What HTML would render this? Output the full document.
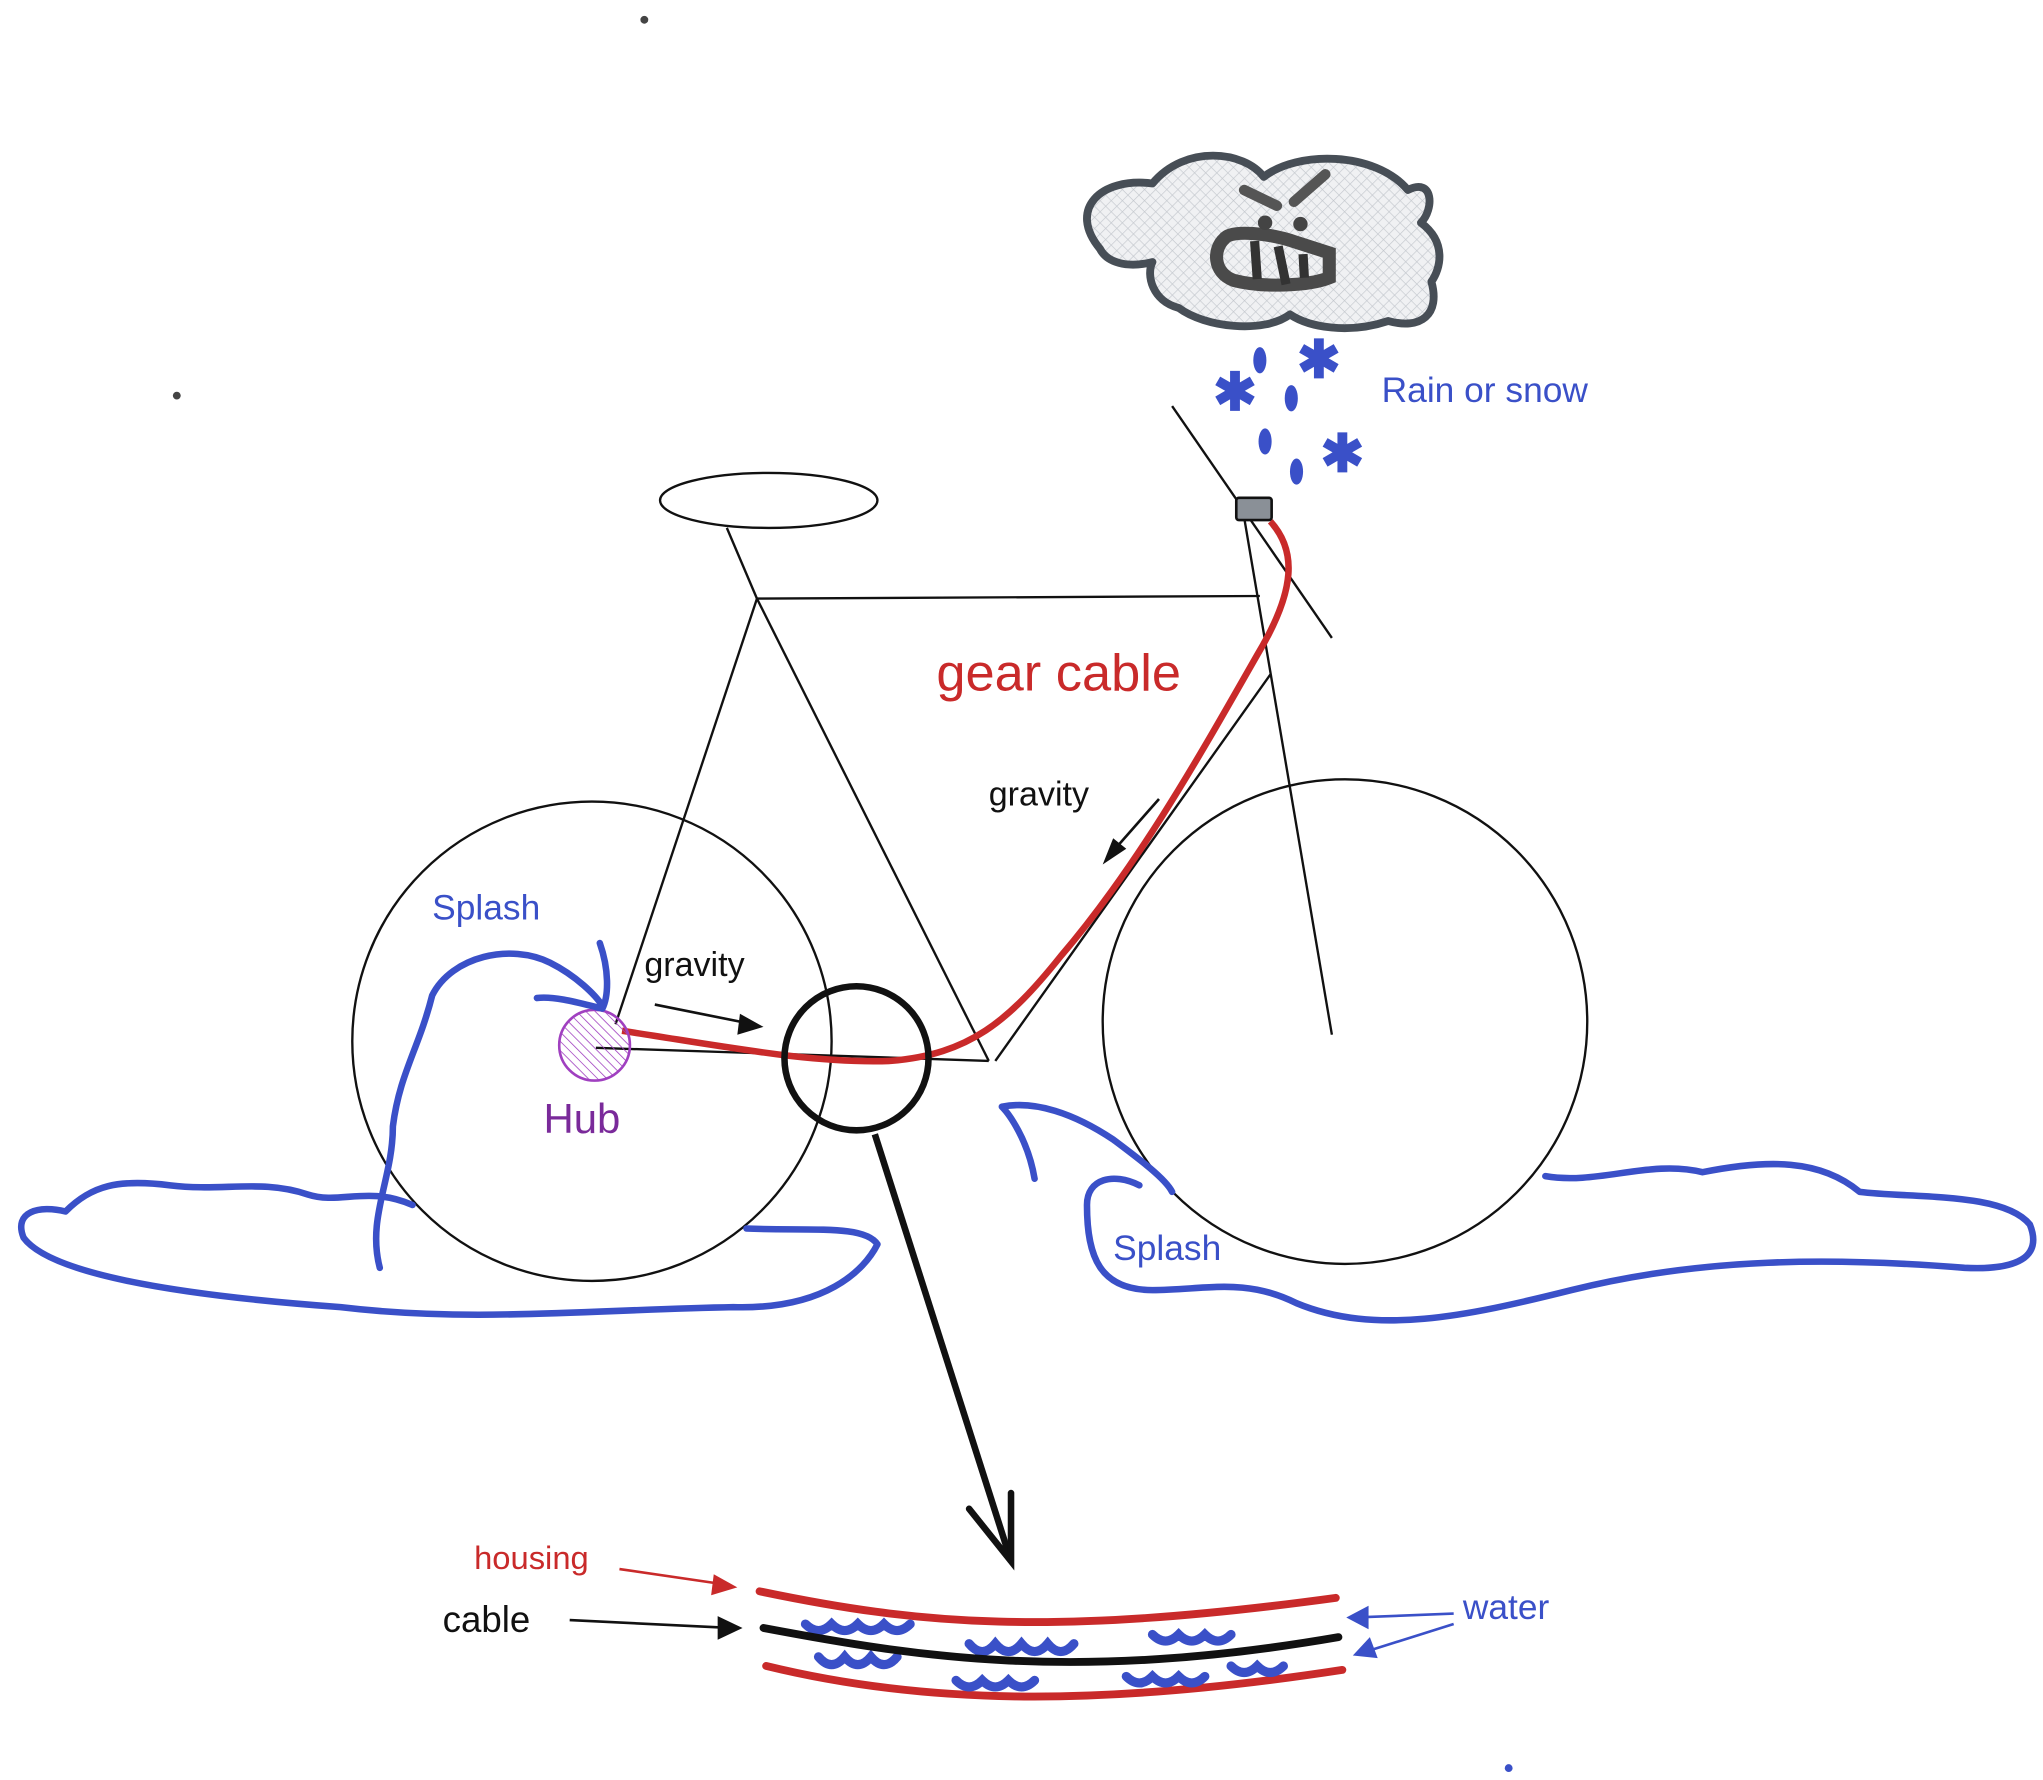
<!DOCTYPE html>
<html><head><meta charset="utf-8"><style>
html,body{margin:0;padding:0;background:#fff;}
svg{display:block;}
text{font-family:"Liberation Sans",sans-serif;}
</style></head><body>
<svg width="2043" height="1780" viewBox="0 0 1560 1359" xmlns="http://www.w3.org/2000/svg">
<defs>
<pattern id="hatch" width="6" height="6" patternUnits="userSpaceOnUse" patternTransform="rotate(45)">
<rect width="6" height="6" fill="#f0f1f3"/>
<line x1="0" y1="0" x2="0" y2="6" stroke="#c4c8ce" stroke-width="1"/>
<line x1="0" y1="0" x2="6" y2="0" stroke="#c4c8ce" stroke-width="1"/>
</pattern>
<pattern id="hubhatch" width="5" height="5" patternUnits="userSpaceOnUse" patternTransform="rotate(-45)">
<line x1="0" y1="0" x2="0" y2="5" stroke="#a040c0" stroke-width="1.2"/>
</pattern>
</defs>
<circle cx="492" cy="15" r="3" fill="#444"/>
<circle cx="135" cy="302" r="3" fill="#444"/>
<circle cx="1152" cy="1350" r="3" fill="#3a50c8"/>

<g>
<path d="M840,190 C815,160 840,135 880,140 C905,110 950,115 965,135 C990,115 1050,115 1075,145 C1095,135 1095,160 1085,170 C1105,185 1100,205 1093,215 C1100,240 1085,252 1060,245 C1030,255 1000,250 985,240 C965,255 920,250 900,235 C880,230 875,210 880,200 C860,205 845,200 840,190 Z" fill="url(#hatch)" stroke="#474e56" stroke-width="6" stroke-linejoin="round"/>
<path d="M935,182 C940,175 970,178 990,185 L1015,193 L1015,212 C1000,218 965,220 942,214 C926,208 926,190 935,182 Z" fill="none" stroke="#4a4a4a" stroke-width="10"/>
<line x1="958" y1="184" x2="960" y2="213" stroke="#333" stroke-width="7"/>
<line x1="976" y1="188" x2="982" y2="217" stroke="#333" stroke-width="7"/>
<line x1="995" y1="194" x2="996" y2="212" stroke="#333" stroke-width="7"/>
<line x1="950" y1="145" x2="975" y2="157" stroke="#555" stroke-width="8" stroke-linecap="round"/>
<line x1="1012" y1="133" x2="988" y2="154" stroke="#555" stroke-width="8" stroke-linecap="round"/>
<circle cx="966" cy="170" r="5.5" fill="#444"/><circle cx="993" cy="171" r="5.5" fill="#444"/>
</g>
<g fill="#3a50c8">
<ellipse cx="962" cy="275" rx="5" ry="10"/><ellipse cx="986" cy="304" rx="5" ry="10"/>
<ellipse cx="966" cy="337" rx="5" ry="10"/><ellipse cx="990" cy="360" rx="5" ry="10"/>
<text x="1007" y="288" font-size="40" text-anchor="middle" font-weight="bold">✱</text>
<text x="943" y="313" font-size="40" text-anchor="middle" font-weight="bold">✱</text>
<text x="1025" y="360" font-size="40" text-anchor="middle" font-weight="bold">✱</text>
</g>
<text x="1055" y="307" font-size="27" fill="#3a50c8">Rain or snow</text>

<g fill="none" stroke="#111" stroke-width="1.8">
<ellipse cx="587" cy="382" rx="83" ry="21"/>
<line x1="555" y1="403" x2="578" y2="457"/>
<line x1="578" y1="457" x2="962" y2="455"/>
<line x1="578" y1="457" x2="755" y2="810"/>
<line x1="578" y1="457" x2="470" y2="782"/>
<line x1="455" y1="800" x2="755" y2="810"/>
<line x1="970" y1="515" x2="760" y2="810"/>
<line x1="950" y1="395" x2="1017" y2="790"/>
<line x1="895" y1="310" x2="1017" y2="487"/>
<circle cx="452" cy="795" r="183"/>
<circle cx="1027" cy="780" r="185"/>
</g>
<rect x="944" y="380" width="27" height="17" rx="2" fill="#8a9097" stroke="#111" stroke-width="2"/>
<path d="M970,398 C990,420 990,450 960,500 C920,570 870,660 810,730 C770,780 740,805 680,810 C620,812 560,800 475,787" fill="none" stroke="#c92a2a" stroke-width="5"/>
<text x="715" y="527" font-size="40" fill="#c92a2a">gear cable</text>
<text x="755" y="615" font-size="26" fill="#111">gravity</text>
<line x1="885" y1="610" x2="848" y2="652" stroke="#111" stroke-width="2"/>
<path d="M842,660 L850,640 L860,648 Z" fill="#111"/>
<text x="492" y="745" font-size="26" fill="#111">gravity</text>
<line x1="500" y1="767" x2="575" y2="782" stroke="#111" stroke-width="2"/>
<path d="M583,784 L565,774 L563,790 Z" fill="#111"/>

<circle cx="454" cy="798" r="27" fill="url(#hubhatch)" stroke="#a040c0" stroke-width="2"/>
<text x="415" y="865" font-size="32" fill="#7a2a9a">Hub</text>

<g fill="none" stroke="#3a50c8" stroke-width="5" stroke-linecap="round" stroke-linejoin="round">
<path d="M315,920 C280,905 260,920 235,912 C200,900 170,910 130,905 C90,900 70,905 50,925 C30,920 10,925 18,945 C40,975 150,990 260,998 C360,1010 450,1000 560,998 C630,1000 660,970 670,950 C660,935 620,940 570,938"/>
<path d="M290,968 C280,930 300,900 300,860 C305,820 320,800 330,760 C345,730 390,720 420,735 C440,745 455,760 460,768 M410,762 C425,760 450,768 460,770 M458,720 C465,740 465,760 460,770"/>
<path d="M1180,898 C1220,905 1260,885 1300,895 C1350,885 1390,885 1420,910 C1460,915 1530,910 1550,935 C1560,960 1540,970 1500,968 C1400,960 1300,960 1200,985 C1120,1005 1050,1020 990,995 C950,975 920,985 880,985 C840,985 830,960 830,920 C830,900 850,895 870,905"/>
<path d="M790,900 C785,870 770,850 765,845 C790,840 820,850 850,870 C870,885 890,900 895,910"/>
</g>
<text x="330" y="702" font-size="27" fill="#3a50c8">Splash</text>
<text x="850" y="962" font-size="27" fill="#3a50c8">Splash</text>

<circle cx="654" cy="808" r="55" fill="none" stroke="#111" stroke-width="5"/>
<line x1="668" y1="866" x2="772" y2="1192" stroke="#111" stroke-width="5"/>
<path d="M740,1152 L772,1192 L772,1140" fill="none" stroke="#111" stroke-width="5" stroke-linecap="round"/>

<g fill="none" stroke-linecap="round">
<path d="M580,1215 C700,1240 800,1250 1020,1220" stroke="#c92a2a" stroke-width="6"/>
<path d="M585,1272 C700,1300 830,1305 1025,1275" stroke="#c92a2a" stroke-width="6"/>
<path d="M615,1240 q10,10 20,0 q10,10 20,0 q10,10 20,0 q10,10 20,0 M740,1255 q10,12 20,0 q10,12 20,0 q10,12 20,0 q10,12 20,0 M880,1248 q10,10 20,0 q10,10 20,0 q10,10 20,0 M625,1265 q10,12 20,0 q10,12 20,0 q10,12 20,0 M730,1283 q10,10 20,0 q10,10 20,0 q10,10 20,0 M860,1280 q10,10 20,0 q10,10 20,0 q10,10 20,0 M940,1272 q10,10 20,0 q10,10 20,0" stroke="#3a50c8" stroke-width="7"/>
<path d="M583,1243 C700,1265 820,1285 1022,1250" stroke="#111" stroke-width="6"/>
</g>
<text x="362" y="1198" font-size="25" fill="#c92a2a">housing</text>
<line x1="473" y1="1198" x2="555" y2="1210" stroke="#c92a2a" stroke-width="2"/>
<path d="M563,1212 L545,1202 L543,1218 Z" fill="#c92a2a"/>
<text x="338" y="1246" font-size="28" fill="#111">cable</text>
<line x1="435" y1="1237" x2="558" y2="1243" stroke="#111" stroke-width="2"/>
<path d="M567,1243 L548,1234 L548,1252 Z" fill="#111"/>
<text x="1117" y="1236" font-size="27" fill="#3a50c8">water</text>
<line x1="1110" y1="1232" x2="1035" y2="1235" stroke="#3a50c8" stroke-width="2"/>
<line x1="1110" y1="1240" x2="1040" y2="1262" stroke="#3a50c8" stroke-width="2"/>
<path d="M1028,1235 L1045,1226 L1045,1244 Z" fill="#3a50c8"/>
<path d="M1033,1264 L1046,1250 L1052,1266 Z" fill="#3a50c8"/>
</svg>
</body></html>
